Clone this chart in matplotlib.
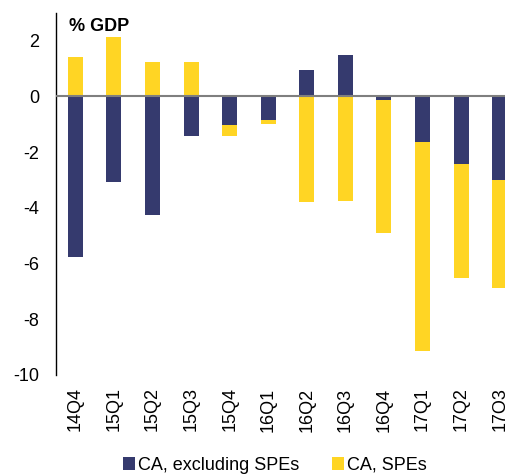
import matplotlib.pyplot as plt
import numpy as np

plt.rcParams['font.family'] = ['Liberation Sans', 'DejaVu Sans']
plt.rcParams['axes.unicode_minus'] = False

quarters = ['14Q4', '15Q1', '15Q2', '15Q3', '15Q4', '16Q1',
            '16Q2', '16Q3', '16Q4', '17Q1', '17Q2', '17Q3']
ca_ex_spe = [-5.76, -3.08, -4.24, -1.43, -1.01, -0.86,
             0.96, 1.47, -0.14, -1.65, -2.44, -3.01]
ca_spe = [1.43, 2.13, 1.22, 1.22, -0.42, -0.14,
          -3.80, -3.76, -4.76, -7.48, -4.07, -3.88]

NAVY = '#353a6e'
YELLOW = '#ffd524'

x = np.arange(len(quarters))
a = np.array(ca_ex_spe)
b = np.array(ca_spe)
# stack like excel: same sign on top of navy, otherwise from zero
bottom = np.where(np.sign(a) == np.sign(b), a, 0)

fig = plt.figure(figsize=(5.06, 4.74), dpi=100)
ax = fig.add_axes([0.1107, 0.2089, 0.9150, 0.7641])

w = 0.39
ax.bar(x, a, w, color=NAVY, label='CA, excluding SPEs', zorder=2)
ax.bar(x, b, w, bottom=bottom, color=YELLOW, label='CA, SPEs', zorder=2)
ax.axhline(0, color='#7f7f7f', lw=1.5, zorder=3)

ax.set_xlim(-0.5, 11.5)
ax.set_ylim(-10, 3)
ax.set_yticks([2, 0, -2, -4, -6, -8, -10])
ax.set_xticks(x)
ax.set_xticklabels(quarters, rotation=90, fontsize=13)
ax.tick_params(axis='y', labelsize=13, length=0, pad=12)
ax.tick_params(axis='x', length=0, pad=9)

for s in ['top', 'right', 'bottom']:
    ax.spines[s].set_visible(False)
ax.spines['left'].set_color('black')
ax.spines['left'].set_linewidth(1)

ax.text(0.029, 0.985, '% GDP', transform=ax.transAxes, fontsize=13,
        fontweight='bold', va='top', ha='left')

fig.legend(loc='lower center', bbox_to_anchor=(0.543, -0.034), ncol=2,
           frameon=False, fontsize=13, handlelength=0.7, handleheight=0.7,
           handletextpad=0.15, columnspacing=1.8)

fig.savefig('out.png', dpi=100)
